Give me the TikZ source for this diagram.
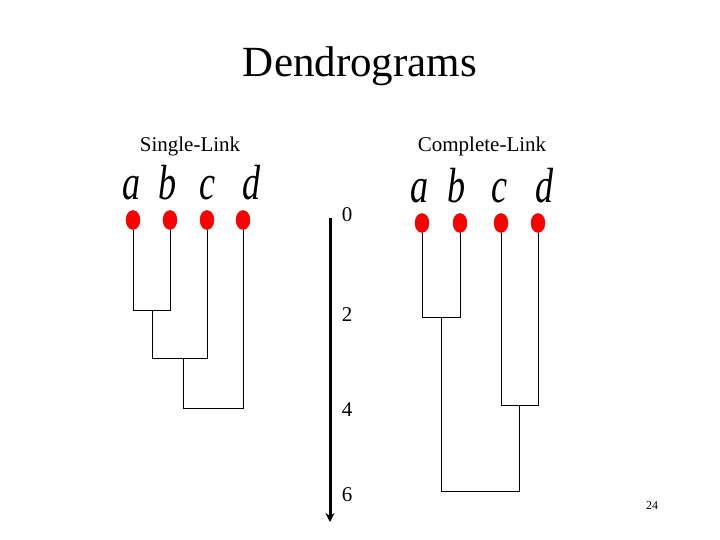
\documentclass[tikz,border=0pt]{standalone}
\usepackage{fontspec}
\setmainfont{Liberation Serif}
\usetikzlibrary{arrows.meta,shapes.geometric}
\begin{document}
\begin{tikzpicture}[x=1pt,y=-1pt,
  dot/.style={ellipse,fill=red,draw=red!80!black,minimum width=14pt,minimum height=19pt,inner sep=0},
  leaf/.style={anchor=base,inner sep=0,yscale=1.3,xscale=0.95,font=\fontsize{38}{38}\selectfont\itshape},
  br/.style={line width=0.8pt}]
\useasboundingbox (0,0) rectangle (720,540);
\node (title) at (360,66) {\fontsize{43}{43}\selectfont Dendrograms};
\node (sl) at (190,146) {\fontsize{21}{21}\selectfont Single-Link};
\node (cl) at (482,146) {\fontsize{21}{21}\selectfont Complete-Link};
% single link
\foreach \n/\x/\l in {a/132/a,b/168/b,c/208/c,d/252/d}{\node[leaf] (s\n t) at (\x,200) {\l};}
\foreach \n/\x in {a/133,b/170,c/207,d/243}{\node[dot] (s\n) at (\x,220) {};}
\coordinate (s1) at (133,310); \coordinate (s2) at (170,310);
\coordinate (s12) at (152,310); \coordinate (s12b) at (152,358); \coordinate (s3) at (207,358);
\coordinate (s123) at (183,358); \coordinate (s123b) at (183,408); \coordinate (s4) at (243,408);
\draw[br] (sa) -- (s1) -- (s2) -- (sb);
\draw[br] (s12) -- (s12b) -- (s3) -- (sc);
\draw[br] (s123) -- (s123b) -- (s4) -- (sd);
% axis
\coordinate (ax0) at (330,218); \coordinate (ax1) at (330,522);
\draw[line width=3pt,-{Stealth[length=9pt,width=9pt]}] (ax0) -- (ax1);
\foreach \v/\y in {0/215,2/315,4/410,6/495}{\node[font=\fontsize{21}{21}\selectfont] (l\v) at (347,\y) {\v};}
% complete link
\foreach \n/\x/\l in {a/420/a,b/457/b,c/500/c,d/545/d}{\node[leaf] (c\n t) at (\x,203) {\l};}
\foreach \n/\x in {a/422,b/460,c/501,d/538}{\node[dot] (c\n) at (\x,223) {};}
\coordinate (c1) at (422,317); \coordinate (c2) at (460,317);
\coordinate (c3) at (501,405); \coordinate (c4) at (538,405);
\coordinate (c12) at (441,317); \coordinate (c34) at (519,405);
\coordinate (c12b) at (441,491); \coordinate (c34b) at (519,491);
\draw[br] (ca) -- (c1) -- (c2) -- (cb);
\draw[br] (cc) -- (c3) -- (c4) -- (cd);
\draw[br] (c12) -- (c12b) -- (c34b) -- (c34);
\node[font=\fontsize{12}{12}\selectfont] (pg) at (652,506) {24};
\end{tikzpicture}
\end{document}
